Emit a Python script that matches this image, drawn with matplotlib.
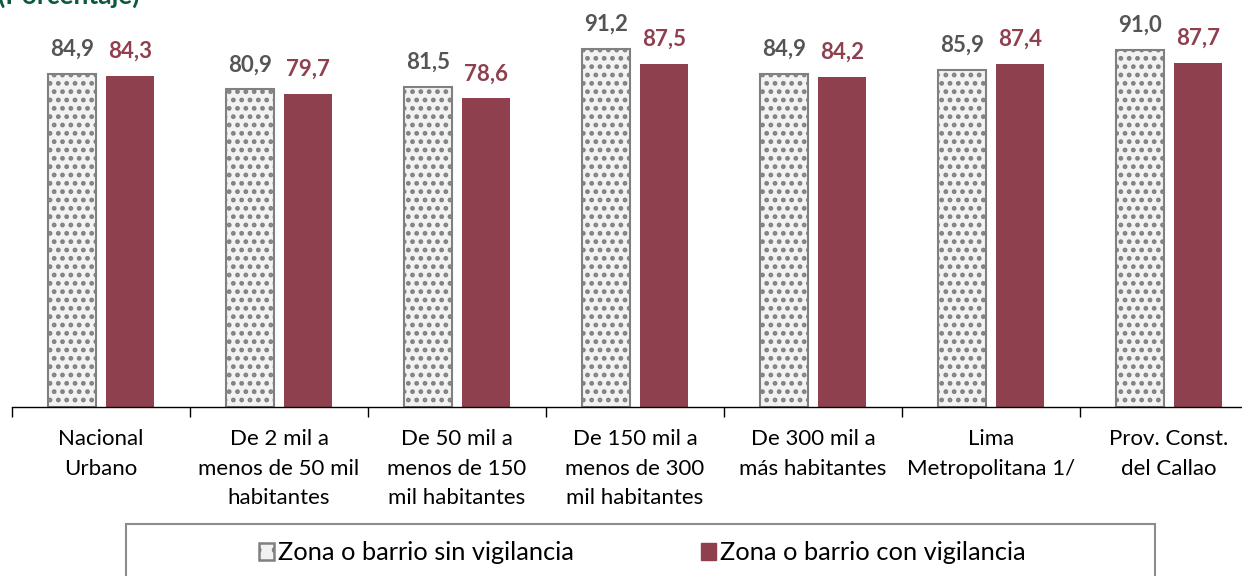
import matplotlib
matplotlib.use("Agg")
import matplotlib.pyplot as plt
from matplotlib.patches import Rectangle, Patch
import numpy as np

categories = ["Nacional\nUrbano", "De 2 mil a\nmenos de 50 mil\nhabitantes",
              "De 50 mil a\nmenos de 150\nmil habitantes", "De 150 mil a\nmenos de 300\nmil habitantes",
              "De 300 mil a\nmás habitantes", "Lima\nMetropolitana 1/", "Prov. Const.\ndel Callao"]
sin_vigilancia = [84.9, 80.9, 81.5, 91.2, 84.9, 85.9, 91.0]
con_vigilancia = [84.3, 79.7, 78.6, 87.5, 84.2, 87.4, 87.7]
series_names = ["Zona o barrio sin vigilancia", "Zona o barrio con vigilancia"]

plt.rcParams['font.family'] = ['Lato', 'DejaVu Sans']
plt.rcParams['hatch.linewidth'] = 2.2

W, H = 1242, 576
fig = plt.figure(figsize=(W/100, H/100), dpi=100)
ax_left, ax_bottom, ax_w, ax_h = 12, 576-407, 7*178, 407
ax = fig.add_axes([ax_left/W, ax_bottom/H, ax_w/W, ax_h/H])

x = np.arange(len(categories))
bw = 0.272
off = 0.163
gray_face = "#F2F2F2"
gray_edge = "#808080"
red = "#8E404F"

b1 = ax.bar(x - off, sin_vigilancia, bw, facecolor=gray_face, edgecolor=gray_edge,
            linewidth=1.5, hatch="..", label=series_names[0], zorder=2)
b2 = ax.bar(x + off, con_vigilancia, bw, color=red, label=series_names[1], zorder=2)

for rect, v in zip(b1, sin_vigilancia):
    ax.annotate(f"{v:.1f}".replace(".", ","), (rect.get_x() + rect.get_width()/2, v),
                xytext=(0, 13), textcoords="offset points", ha="center", va="baseline",
                fontsize=16, fontweight="bold", color="#555555")
for rect, v in zip(b2, con_vigilancia):
    ax.annotate(f"{v:.1f}".replace(".", ","), (rect.get_x() + rect.get_width()/2, v),
                xytext=(0, 13), textcoords="offset points", ha="center", va="baseline",
                fontsize=16, fontweight="bold", color=red)

ax.set_xlim(-0.5, len(categories) - 0.5)
ax.set_ylim(0, 407/3.925)
for s in ["left", "right", "top"]:
    ax.spines[s].set_visible(False)
ax.spines["bottom"].set_color("#000000")
ax.spines["bottom"].set_linewidth(1.0)
ax.set_yticks([])
ax.set_xticks(x)
ax.set_xticklabels(categories, fontsize=16, linespacing=1.6, color="#000000")
ax.tick_params(axis="x", which="major", length=0, pad=16)
ax.set_xticks(np.arange(len(categories)+1) - 0.5, minor=True)
ax.tick_params(axis="x", which="minor", length=7, width=1.0, color="#000000", direction="out")

fig.text(-2/W, 1 - 4/H, "(Porcentaje)", fontsize=19, fontweight="bold", color="#0B5A3A",
         ha="left", va="baseline")

fig.patches.append(Rectangle((126/W, -10/H), (1155-126)/W, (576-524+10)/H,
                             transform=fig.transFigure, facecolor="none",
                             edgecolor="#8C8C8C", linewidth=1.5))
h1 = Patch(facecolor=gray_face, edgecolor=gray_edge, linewidth=1.8, hatch=".")
h2 = Patch(facecolor=red, edgecolor=red)
fig.legend(handles=[h1, h2], labels=series_names, ncol=2, frameon=False, loc="center",
           bbox_to_anchor=(642/W, 1 - 553/H), fontsize=18.3, handlelength=0.6,
           handleheight=0.6, handletextpad=0.15, columnspacing=5.0, borderpad=0)

fig.savefig("out.png", dpi=100)
